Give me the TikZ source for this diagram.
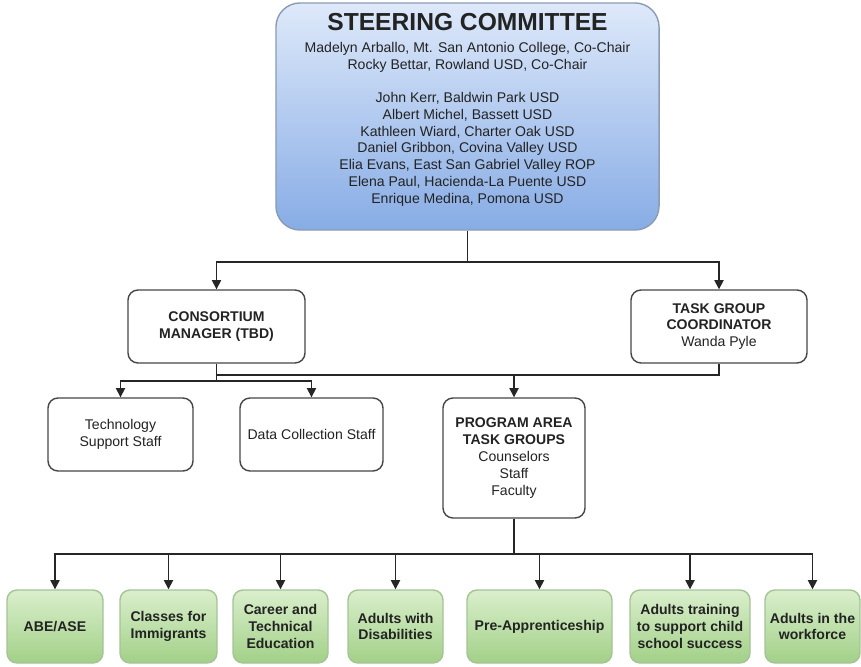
\documentclass[tikz,border=0pt]{standalone}
\usepackage{fontspec}
\setmainfont{Liberation Sans}
\usetikzlibrary{arrows.meta}

\definecolor{steerTop}{RGB}{222,233,250}
\definecolor{steerBottom}{RGB}{135,172,229}
\definecolor{steerLine}{RGB}{140,155,180}
\definecolor{areaTop}{RGB}{218,239,204}
\definecolor{areaBottom}{RGB}{162,208,136}
\definecolor{areaLine}{RGB}{165,195,150}
\definecolor{boxLine}{RGB}{70,70,70}
\definecolor{textGray}{RGB}{35,35,35}

\begin{document}
\begin{tikzpicture}[x=0.025cm, y=-0.025cm,
    textGray,
    boxBase/.style={rounded corners=0.25cm, line width=1pt, align=center, inner sep=2pt,
      font=\fontsize{10}{12}\selectfont},
    staffBox/.style={boxBase, draw=boxLine, fill=white},
    areaBox/.style={boxBase, draw=areaLine, top color=areaTop, bottom color=areaBottom,
      minimum height=1.825cm, font=\fontsize{10}{12}\selectfont\bfseries},
    link/.style={line width=1.1pt, black!85},
    arrowLink/.style={link, -{Triangle[width=6.5pt,length=6.5pt]}}]
 	\def\px{0.025cm} % one pixel of the layout
 	
 	% Frame of the whole chart
 	\useasboundingbox (0,0) rectangle (861,666);
 	
 	% Steering committee
 	\node[draw=steerLine, line width=1pt, rounded corners=0.6cm, top color=steerTop,
 	      bottom color=steerBottom, inner sep=0pt] (steer) at (467.5,116.5)
 	{\parbox[c][5.675cm][t]{9.575cm}{\centering
 	  \vspace*{0.25cm}
 	  {\fontsize{17.5}{20}\selectfont\bfseries STEERING COMMITTEE\par}
 	  \vspace{4pt}
 	  \fontsize{10}{11.9}\selectfont
 	  Madelyn Arballo, Mt. San Antonio College, Co-Chair\\
 	  Rocky Bettar, Rowland USD, Co-Chair\par
 	  \vspace{11.9pt}
 	  John Kerr, Baldwin Park USD\\
 	  Albert Michel, Bassett USD\\
 	  Kathleen Wiard, Charter Oak USD\\
 	  Daniel Gribbon, Covina Valley USD\\
 	  Elia Evans, East San Gabriel Valley ROP\\
 	  Elena Paul, Hacienda-La Puente USD\\
 	  Enrique Medina, Pomona USD\par}};
 	
 	% Second level
 	\node[staffBox, minimum width=177*\px, minimum height=73*\px] (manager) at (216.5,326.5)
 	  {\textbf{CONSORTIUM}\\ \textbf{MANAGER (TBD)}};
 	\node[staffBox, minimum width=176*\px, minimum height=73*\px] (coord) at (719,326.5)
 	  {\textbf{TASK GROUP}\\ \textbf{COORDINATOR}\\ Wanda Pyle};
 	
 	% Staff and task groups
 	\node[staffBox, minimum width=145*\px, minimum height=73*\px] (tech) at (120.5,434.5)
 	  {Technology\\ Support Staff};
 	\node[staffBox, minimum width=143*\px, minimum height=73*\px] (data) at (311.5,434.5)
 	  {Data Collection Staff};
 	\node[staffBox, minimum width=142*\px, minimum height=120*\px] (groups) at (514,458)
 	  {\textbf{PROGRAM AREA}\\ \textbf{TASK GROUPS}\\ Counselors\\ Staff\\ Faculty};
 	
 	% Program areas
 	\node[areaBox, minimum width=96*\px] (abe) at (55,626.5) {ABE/ASE};
 	\node[areaBox, minimum width=97*\px] (immigrants) at (168.5,626.5) {Classes for\\ Immigrants};
 	\node[areaBox, minimum width=95*\px] (career) at (280.5,626.5) {Career and\\ Technical\\ Education};
 	\node[areaBox, minimum width=95*\px] (disabilities) at (395.5,626.5) {Adults with\\ Disabilities};
 	\node[areaBox, minimum width=145*\px] (preapp) at (539.5,626.5) {Pre-Apprenticeship};
 	\node[areaBox, minimum width=120*\px] (parents) at (690,626.5) {Adults training\\ to support child\\ school success};
 	\node[areaBox, minimum width=95*\px] (workforce) at (812.5,626.5) {Adults in the\\ workforce};
 	
 	% Split points of the connectors
 	\coordinate (steerSplit) at (467.5,262);
 	\coordinate (managerSplit) at (216.5,381);
 	\coordinate (coordJoin) at (216.5,375);
 	\coordinate (groupsSplit) at (514,554);
 	
 	% Connectors
 	\draw[link] (steer) -- (steerSplit);
 	\draw[arrowLink] (steerSplit) -| (manager);
 	\draw[arrowLink] (steerSplit) -| (coord);
 	
 	\draw[link] (manager) -- (managerSplit);
 	\draw[arrowLink] (managerSplit) -| (tech);
 	\draw[arrowLink] (managerSplit) -| (data);
 	\draw[link] (coord) |- (coordJoin);
 	\draw[arrowLink] (groups.north |- coordJoin) -- (groups);
 	
 	\draw[link] (groups) -- (groupsSplit);
 	\foreach \area in {abe, immigrants, career, disabilities, preapp, parents, workforce} {
 		\draw[arrowLink] (groupsSplit) -| (\area);
 	}
 \end{tikzpicture}
\end{document}
